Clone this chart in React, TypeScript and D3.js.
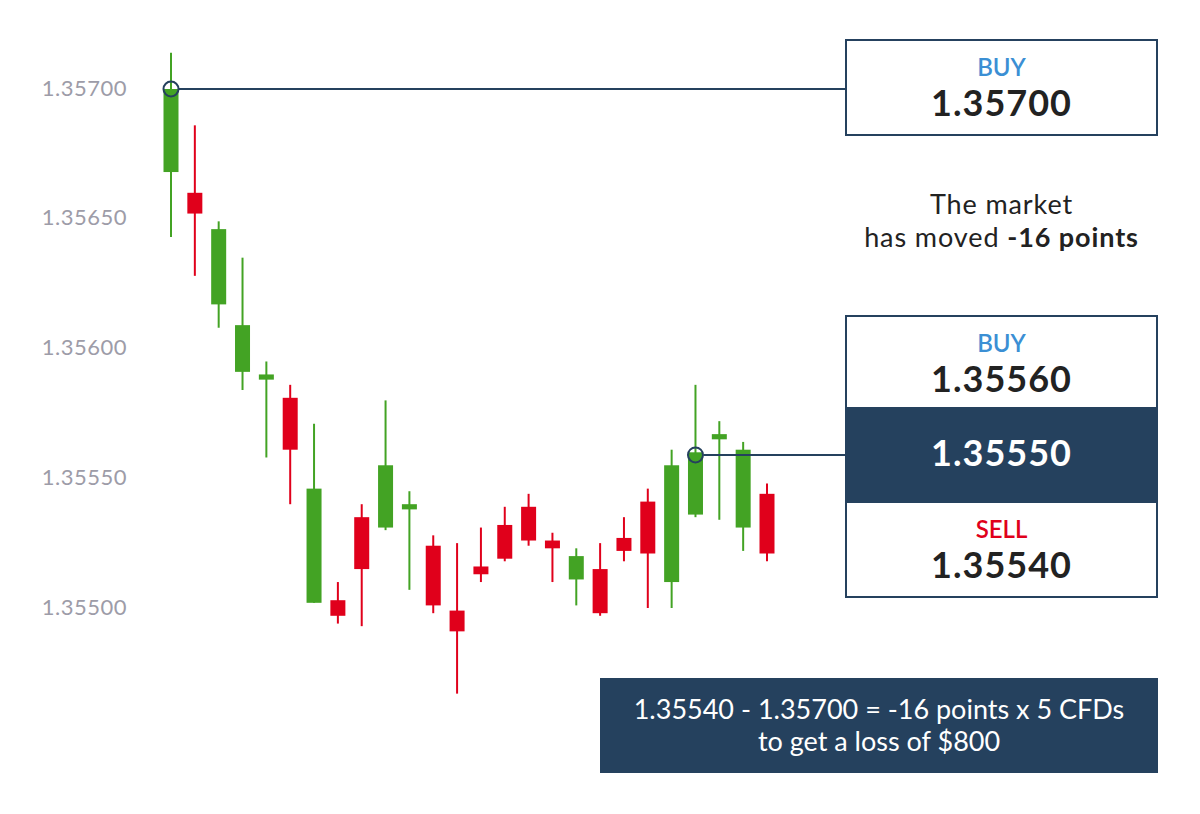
import React from 'react'
import * as d3 from 'd3'

const W = 1200
const H = 814

// candle values
const opens = [1.35668, 1.3566, 1.35617, 1.35591, 1.35588, 1.35581, 1.35502, 1.35503, 1.35535, 1.35531, 1.35538, 1.35524, 1.35499, 1.35516, 1.35532, 1.35539, 1.35526, 1.35511, 1.35515, 1.35527, 1.35541, 1.3551, 1.35536, 1.35565, 1.35531, 1.35544]
const closes = [1.357, 1.35652, 1.35646, 1.35609, 1.3559, 1.35561, 1.35546, 1.35497, 1.35515, 1.35555, 1.3554, 1.35501, 1.35491, 1.35513, 1.35519, 1.35526, 1.35523, 1.3552, 1.35498, 1.35522, 1.35521, 1.35555, 1.3556, 1.35567, 1.35561, 1.35521]
const highs = [1.35714, 1.35686, 1.35649, 1.35635, 1.35595, 1.35586, 1.35571, 1.3551, 1.3554, 1.3558, 1.35545, 1.35528, 1.35525, 1.35531, 1.35539, 1.35544, 1.35529, 1.35523, 1.35525, 1.35535, 1.35546, 1.35561, 1.35586, 1.35572, 1.35564, 1.35548]
const lows = [1.35643, 1.35628, 1.35608, 1.35584, 1.35558, 1.3554, 1.35502, 1.35494, 1.35493, 1.3553, 1.35507, 1.35498, 1.35467, 1.3551, 1.35518, 1.35524, 1.3551, 1.35501, 1.35497, 1.35518, 1.355, 1.355, 1.35535, 1.35534, 1.35522, 1.35518]

const yTicks = [1.357, 1.3565, 1.356, 1.3555, 1.355]

// marked prices (candle index, price)
const entryMark = { i: 0, price: 1.357 }
const nowMark = { i: 22, price: 1.35559 }

const GREEN = '#43a324'
const RED = '#e0001b'
const NAVY = '#25415e'
const BLUE = '#3b8fd4'
const TEXT = '#222222'
const FONT = 'Lato, "Open Sans", sans-serif'

export default function App() {
  const x = d3
    .scalePoint<number>()
    .domain(d3.range(opens.length))
    .range([171, 767])
  const y = d3.scaleLinear().domain([1.355, 1.357]).range([608, 89])
  const fmt = d3.format('.5f')
  const bodyW = 15

  const boxL = 846
  const boxR = 1157
  const boxCx = (boxL + boxR) / 2

  const numStyle = { fontSize: 36, fontWeight: 700, letterSpacing: 1 }
  const tagStyle = { fontSize: 24, fontWeight: 600 }

  return (
    <svg
      width={W}
      height={H}
      style={{ position: 'absolute', left: 0, top: 0, background: '#fff' }}
      fontFamily={FONT}
    >
      {/* y axis labels */}
      <g fill="#9d9ca8" fontSize={22} textAnchor="end">
        {yTicks.map((t) => (
          <text key={t} x={127} y={y(t)} dy="0.3em" letterSpacing={0.5}>
            {fmt(t)}
          </text>
        ))}
      </g>

      {/* candles */}
      <g>
        {opens.map((o, i) => {
          const c = closes[i]
          const col = c >= o ? GREEN : RED
          const top = y(Math.max(o, c))
          const bot = y(Math.min(o, c))
          return (
            <g key={i}>
              <line x1={x(i)} x2={x(i)} y1={y(highs[i])} y2={y(lows[i])} stroke={col} strokeWidth={2} />
              <rect x={x(i)! - bodyW / 2} y={top} width={bodyW} height={Math.max(bot - top, 4)} fill={col} />
            </g>
          )
        })}
      </g>

      {/* connector lines + circles */}
      <line x1={x(entryMark.i)! + 8} x2={boxL} y1={y(entryMark.price)} y2={y(entryMark.price)} stroke={NAVY} strokeWidth={2} />
      <circle cx={x(entryMark.i)} cy={y(entryMark.price)} r={7.5} fill="none" stroke={NAVY} strokeWidth={2} />
      <line x1={x(nowMark.i)! + 8} x2={boxL} y1={y(nowMark.price)} y2={y(nowMark.price)} stroke={NAVY} strokeWidth={2} />
      <circle cx={x(nowMark.i)} cy={y(nowMark.price)} r={7.5} fill="none" stroke={NAVY} strokeWidth={2} />

      {/* entry box */}
      <rect x={boxL} y={40} width={boxR - boxL} height={95} fill="#fff" stroke={NAVY} strokeWidth={2} />
      <text x={boxCx} y={76} textAnchor="middle" fill={BLUE} style={tagStyle}>BUY</text>
      <text x={boxCx} y={116} textAnchor="middle" fill={TEXT} style={numStyle}>1.35700</text>

      {/* market note */}
      <text x={boxCx} y={214} textAnchor="middle" fill={TEXT} fontSize={27} letterSpacing={0.9}>The market</text>
      <text x={boxCx} y={247} textAnchor="middle" fill={TEXT} fontSize={27} letterSpacing={0.9}>
        has moved <tspan fontWeight={700}>-16 points</tspan>
      </text>

      {/* current price box */}
      <rect x={boxL} y={316} width={boxR - boxL} height={281} fill="#fff" stroke={NAVY} strokeWidth={2} />
      <rect x={boxL} y={407} width={boxR - boxL} height={96} fill={NAVY} />
      <text x={boxCx} y={352} textAnchor="middle" fill={BLUE} style={tagStyle}>BUY</text>
      <text x={boxCx} y={392} textAnchor="middle" fill={TEXT} style={numStyle}>1.35560</text>
      <text x={boxCx} y={466} textAnchor="middle" fill="#fff" style={numStyle}>1.35550</text>
      <text x={boxCx} y={538} textAnchor="middle" fill={RED} style={tagStyle}>SELL</text>
      <text x={boxCx} y={578} textAnchor="middle" fill={TEXT} style={numStyle}>1.35540</text>

      {/* result box */}
      <rect x={600} y={678} width={558} height={95} fill={NAVY} />
      <text x={879} y={719} textAnchor="middle" fill="#fff" fontSize={27}>
        1.35540 - 1.35700 = -16 points x 5 CFDs
      </text>
      <text x={879} y={751} textAnchor="middle" fill="#fff" fontSize={27}>
        to get a loss of $800
      </text>
    </svg>
  )
}
